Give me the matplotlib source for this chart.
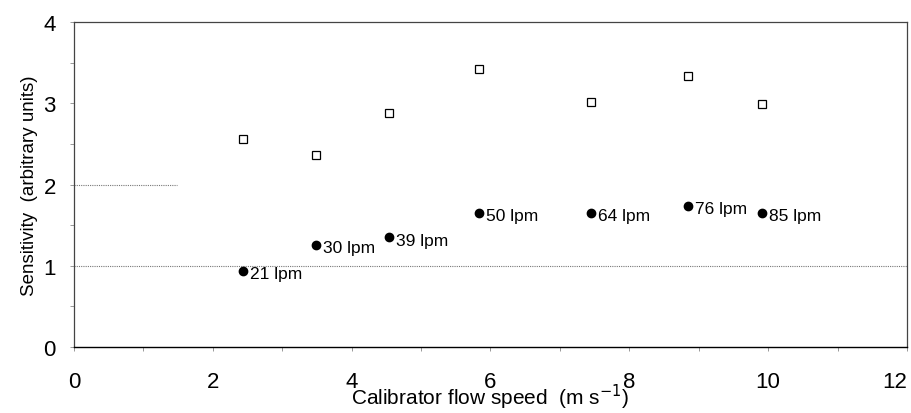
import matplotlib
matplotlib.use("Agg")
import matplotlib.pyplot as plt
from matplotlib.ticker import MultipleLocator

plt.rcParams.update({"font.family": ["Liberation Sans", "DejaVu Sans"]})

# calibrator flow speed (m/s) for each run, and the flow rate label
speed = [2.44, 3.49, 4.54, 5.83, 7.45, 8.85, 9.91]
flow_lbl = ["21 lpm", "30 lpm", "39 lpm", "50 lpm", "64 lpm", "76 lpm", "85 lpm"]
sens_open = [2.56, 2.36, 2.88, 3.42, 3.01, 3.34, 2.99]     # open squares
sens_filled = [0.94, 1.26, 1.35, 1.65, 1.65, 1.74, 1.65]   # filled circles
x_ticks = [0, 2, 4, 6, 8, 10, 12]
y_ticks = [0, 1, 2, 3, 4]

fig = plt.figure(figsize=(9.12, 4.14), dpi=100)
ax = fig.add_axes([0.0811, 0.1594, 0.9134, 0.785])

# dotted reference lines (the one at 2 stops short in the original)
ax.axhline(1.0, color="#777777", lw=0.8, ls=(0, (1, 1)), zorder=1)
ax.plot([0, 1.48], [2.0, 2.0], color="#777777", lw=0.8, ls=(0, (1, 1)), zorder=1)

ax.plot(speed, sens_open, "s", ms=5.3, mfc="white", mec="black", mew=0.9, zorder=3)
ax.plot(speed, sens_filled, "o", ms=6, color="black", zorder=3)
for x, y, t in zip(speed, sens_filled, flow_lbl):
    ax.annotate(t, (x, y), xytext=(5, -2), textcoords="offset points",
                ha="left", va="center", fontsize=12.5)

ax.set_xlim(0, 12)
ax.set_ylim(0, 4)
ax.set_xticks(x_ticks, [str(v) for v in x_ticks])
ax.set_yticks(y_ticks, [str(v) for v in y_ticks])
ax.xaxis.set_minor_locator(MultipleLocator(1))
ax.yaxis.set_minor_locator(MultipleLocator(0.5))
ax.tick_params(axis="x", which="both", direction="out", length=3, width=0.6,
               color="#888888", pad=14, labelsize=16)
ax.tick_params(axis="y", which="both", direction="out", length=3, width=0.6,
               color="#888888", pad=10, labelsize=16)
# last label sits inside the figure edge, as in the original
ax.get_xticklabels()[-1].set_ha("right")

for side in ("left", "top", "right"):
    ax.spines[side].set_color("#444444")
    ax.spines[side].set_linewidth(0.9)
ax.spines["bottom"].set_color("black")
ax.spines["bottom"].set_linewidth(1.0)

ax.set_xlabel("Calibrator flow speed  (m s$^{-1}$)", fontsize=15, labelpad=-7)
ax.set_ylabel("Sensitivity  (arbitrary units)", fontsize=13.5, labelpad=4)

fig.savefig("out.png", dpi=100)
